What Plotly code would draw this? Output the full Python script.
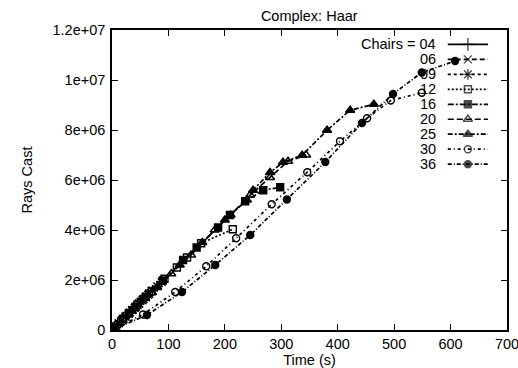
import plotly.graph_objects as go

# Rays cast over time for the Haar complex scene, one series per chair count
chairs = ["04", "06", "09", "12", "16", "20", "25", "30", "36"]

t04 = [0, 5, 10, 15, 20, 25, 30, 35, 40, 45, 50, 55, 60]
r04 = [0, 0.11e6, 0.23e6, 0.35e6, 0.47e6, 0.58e6, 0.70e6, 0.81e6, 0.93e6, 1.04e6, 1.15e6, 1.26e6, 1.38e6]

t06 = [0, 6, 12, 18, 24, 30, 36, 42, 48, 54, 60, 66, 72]
r06 = [0, 0.13e6, 0.27e6, 0.40e6, 0.54e6, 0.67e6, 0.80e6, 0.93e6, 1.06e6, 1.19e6, 1.32e6, 1.45e6, 1.57e6]

t09 = [0, 8, 16, 24, 32, 40, 48, 56, 64, 72, 80, 88]
r09 = [0, 0.17e6, 0.35e6, 0.53e6, 0.71e6, 0.88e6, 1.06e6, 1.23e6, 1.41e6, 1.58e6, 1.75e6, 1.92e6]

t12 = [0, 20, 45, 70, 93, 115, 133, 158, 214]
r12 = [0, 0.45e6, 1.0e6, 1.55e6, 2.05e6, 2.5e6, 2.9e6, 3.47e6, 4.03e6]

t16 = [0, 30, 60, 90, 126, 150, 188, 209, 236, 268, 298]
r16 = [0, 0.66e6, 1.32e6, 1.98e6, 2.8e6, 3.3e6, 4.1e6, 4.6e6, 5.15e6, 5.59e6, 5.71e6]

t20 = [0, 35, 70, 105, 140, 182, 210, 245, 280, 312, 344]
r20 = [0, 0.75e6, 1.5e6, 2.25e6, 3.0e6, 4.0e6, 4.6e6, 5.4e6, 6.1e6, 6.75e6, 7.0e6]

t25 = [0, 40, 80, 120, 160, 200, 239, 250, 280, 303, 337, 381, 422, 464]
r25 = [0, 0.85e6, 1.7e6, 2.6e6, 3.5e6, 4.4e6, 5.2e6, 5.59e6, 6.3e6, 6.71e6, 6.99e6, 7.99e6, 8.79e6, 9.03e6]

t30 = [0, 55, 112, 167, 220, 283, 346, 404, 452, 494, 549]
r30 = [0, 0.62e6, 1.52e6, 2.55e6, 3.67e6, 5.03e6, 6.31e6, 7.55e6, 8.47e6, 9.18e6, 9.49e6]

t36 = [0, 62, 124, 183, 245, 310, 378, 443, 498, 549, 608]
r36 = [0, 0.6e6, 1.52e6, 2.6e6, 3.8e6, 5.22e6, 6.72e6, 8.28e6, 9.44e6, 10.3e6, 10.76e6]

times = [t04, t06, t09, t12, t16, t20, t25, t30, t36]
rays = [r04, r06, r09, r12, r16, r20, r25, r30, r36]

legend_labels = ["Chairs = 04", "06", "09", "12", "16", "20", "25", "30", "36"]

x_ticks = [0, 100, 200, 300, 400, 500, 600, 700]
y_ticks = [0, 2e6, 4e6, 6e6, 8e6, 10e6, 12e6]
y_tick_text = ["0", "2e+06", "4e+06", "6e+06", "8e+06", "1e+07", "1.2e+07"]

# gnuplot-like line and point styles
dashes = ["solid", "5px,3px", "3px,3px", "2px,2px", "6px,2px,2px,2px",
          "6px,3px", "5px,2px,2px,2px", "3px,3px,1px,3px", "4px,2px,1px,2px"]
symbols = ["cross-thin-open", "x-thin-open", "asterisk-open", "square-open", "square",
           "triangle-up-open", "triangle-up", "circle-open", "circle"]
sizes = [9, 8, 9, 7, 7, 8, 8, 7, 7]

FONT = "Liberation Sans, Arial, sans-serif"
FS = 14.5

fig = go.Figure()

for i, name in enumerate(chairs):
    fig.add_trace(go.Scatter(
        x=times[i], y=rays[i], mode="lines+markers", name=name, showlegend=False,
        line=dict(color="black", width=1.7, dash=dashes[i]),
        marker=dict(symbol=symbols[i], size=sizes[i], color="black",
                    line=dict(color="black", width=1.4)),
    ))

# Key: right-aligned labels with a line sample to their right (overlay axes in 0..1)
key_top = 0.952
key_step = 0.0499
x_text = 0.826
x0, x1 = 0.85, 0.952
for i, label in enumerate(legend_labels):
    yk = key_top - i * key_step
    fig.add_trace(go.Scatter(
        x=[x0, (x0 + x1) / 2, x1], y=[yk, yk, yk], mode="lines+markers",
        xaxis="x2", yaxis="y2", showlegend=False, hoverinfo="skip",
        line=dict(color="black", width=1.7, dash=dashes[i]),
        marker=dict(symbol=symbols[i], size=[0, sizes[i], 0], color="black",
                    line=dict(color="black", width=1.4)),
    ))
    fig.add_annotation(x=x_text, y=yk, xref="paper", yref="paper", text=label,
                       showarrow=False, xanchor="right", yanchor="middle",
                       font=dict(family=FONT, size=FS, color="black"))

axis_common = dict(showline=True, linecolor="black", linewidth=1.6, mirror="ticks",
                   ticks="inside", ticklen=6, tickwidth=1.3, tickcolor="black",
                   showgrid=False, zeroline=False, automargin=False,
                   ticklabeloverflow="allow",
                   tickfont=dict(family=FONT, size=FS, color="black"))

fig.update_layout(
    width=518, height=368,
    margin=dict(l=112, r=11, t=30, b=38),
    paper_bgcolor="white", plot_bgcolor="white",
    title=dict(text="Complex: Haar", x=0.597, xanchor="center", y=0.957, yanchor="middle",
               font=dict(family=FONT, size=FS, color="black")),
    xaxis=dict(range=[0, 700], tickvals=x_ticks, ticktext=[str(v) for v in x_ticks],
               ticklabelstandoff=0,
               title=dict(text="Time (s)", standoff=0,
                          font=dict(family=FONT, size=FS, color="black")),
               **axis_common),
    yaxis=dict(range=[0, 1.2e7], tickvals=y_ticks, ticktext=y_tick_text,
               ticklabelstandoff=2,
               title=dict(text="Rays Cast", standoff=16,
                          font=dict(family=FONT, size=FS, color="black")),
               **axis_common),
    xaxis2=dict(range=[0, 1], overlaying="x", visible=False, fixedrange=True),
    yaxis2=dict(range=[0, 1], overlaying="y", visible=False, fixedrange=True),
    showlegend=False,
)

fig.write_html("out.html")
